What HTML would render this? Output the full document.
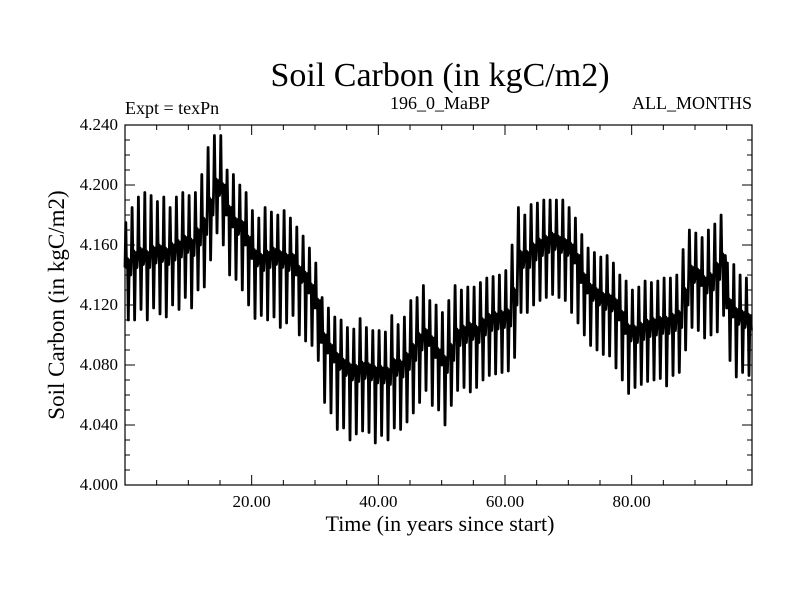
<!DOCTYPE html>
<html><head><meta charset="utf-8"><style>
body{margin:0;background:#fff}
svg text{font-family:"Liberation Serif",serif;fill:#000}
</style></head><body>
<svg id="chart" width="800" height="600" viewBox="0 0 800 600" xmlns="http://www.w3.org/2000/svg">
<text x="440" y="86" font-size="34" text-anchor="middle">Soil Carbon (in kgC/m2)</text>
<text x="125" y="114" font-size="18">Expt = texPn</text>
<text x="440" y="109" font-size="18" text-anchor="middle">196_0_MaBP</text>
<text x="752" y="109" font-size="18" text-anchor="end">ALL_MONTHS</text>
<text transform="translate(64,305) rotate(-90)" font-size="23" text-anchor="middle">Soil Carbon (in kgC/m2)</text>
<text x="440" y="531" font-size="22" text-anchor="middle">Time (in years since start)</text>
<g id="ticks"></g>
<g id="series"></g>
<rect x="125" y="125" width="627" height="360" fill="none" stroke="#000" stroke-width="1.2"/>
</svg>
<script>
const yearMean=[4.145,4.150,4.152,4.150,4.153,4.154,4.152,4.155,4.157,4.160,
4.158,4.165,4.172,4.185,4.198,4.195,4.180,4.172,4.170,4.160,
4.151,4.148,4.150,4.152,4.150,4.148,4.148,4.140,4.136,4.128,
4.118,4.095,4.088,4.082,4.078,4.075,4.074,4.076,4.075,4.073,
4.073,4.072,4.078,4.077,4.082,4.088,4.095,4.098,4.093,4.085,
4.080,4.088,4.098,4.100,4.102,4.100,4.105,4.108,4.109,4.110,
4.111,4.125,4.150,4.150,4.155,4.158,4.160,4.162,4.160,4.158,
4.155,4.148,4.135,4.128,4.125,4.122,4.121,4.118,4.110,4.101,
4.100,4.102,4.104,4.105,4.106,4.106,4.108,4.110,4.125,4.140,
4.138,4.133,4.135,4.142,4.148,4.118,4.112,4.110,4.108];
const upAmp=[0.03,0.035,0.04,0.045,0.04,0.035,0.04,0.03,0.035,0.035,
0.035,0.03,0.035,0.04,0.035,0.038,0.03,0.035,0.03,0.035,
0.032,0.03,0.035,0.03,0.03,0.035,0.03,0.032,0.03,0.03,
0.03,0.03,0.03,0.03,0.032,0.03,0.03,0.035,0.03,0.03,
0.03,0.03,0.035,0.03,0.03,0.035,0.03,0.035,0.03,0.035,
0.035,0.035,0.035,0.03,0.03,0.032,0.03,0.03,0.03,0.03,
0.032,0.035,0.035,0.03,0.032,0.03,0.03,0.028,0.03,0.032,
0.03,0.03,0.032,0.03,0.03,0.03,0.032,0.03,0.03,0.035,
0.03,0.03,0.032,0.03,0.03,0.032,0.03,0.03,0.032,0.03,
0.03,0.032,0.035,0.032,0.032,0.03,0.035,0.03,0.03];
const downAmp=[0.035,0.04,0.035,0.04,0.035,0.04,0.04,0.035,0.04,0.035,
0.04,0.035,0.04,0.035,0.03,0.035,0.04,0.035,0.04,0.04,
0.04,0.035,0.04,0.04,0.045,0.04,0.035,0.04,0.04,0.035,
0.035,0.04,0.04,0.045,0.04,0.045,0.04,0.04,0.04,0.045,
0.04,0.042,0.04,0.04,0.04,0.04,0.04,0.035,0.04,0.035,
0.04,0.035,0.035,0.035,0.04,0.035,0.035,0.035,0.035,0.035,
0.035,0.04,0.035,0.035,0.035,0.035,0.035,0.035,0.035,0.035,
0.04,0.04,0.035,0.035,0.035,0.035,0.035,0.04,0.04,0.04,
0.035,0.035,0.035,0.035,0.035,0.04,0.035,0.035,0.035,0.035,
0.035,0.035,0.035,0.04,0.035,0.035,0.04,0.035,0.035];
const yTicks=[4.000,4.040,4.080,4.120,4.160,4.200,4.240];
const yTickLabels=["4.000","4.040","4.080","4.120","4.160","4.200","4.240"];
const xTicks=[20,40,60,80];
const xTickLabels=["20.00","40.00","60.00","80.00"];

const X0=125,X1=752,Y0=485,Y1=125,XMIN=0,XMAX=99,YMIN=4.0,YMAX=4.24;
const xs=v=>X0+(v-XMIN)/(XMAX-XMIN)*(X1-X0);
const ys=v=>Y0-(v-YMIN)/(YMAX-YMIN)*(Y0-Y1);
const NS='http://www.w3.org/2000/svg';
const svg=document.getElementById('chart');
const tg=document.getElementById('ticks');
function line(x1,y1,x2,y2,name){
  const l=document.createElementNS(NS,'line');
  l.setAttribute('x1',x1);l.setAttribute('y1',y1);l.setAttribute('x2',x2);l.setAttribute('y2',y2);
  l.setAttribute('stroke','#000');l.setAttribute('stroke-width','1');
  
  
  tg.appendChild(l);
}
function text(x,y,s,anchor,name){
  const t=document.createElementNS(NS,'text');
  t.setAttribute('x',x);t.setAttribute('y',y);t.setAttribute('font-size','17');
  t.setAttribute('text-anchor',anchor);t.textContent=s;
  
  
  svg.appendChild(t);
}
for(let i=0;i<=24;i++){
  const v=YMIN+i*0.01,y=ys(v),len=(i%4===0)?10:5;
  line(X0,y,X0+len,y,'y-tick');
  line(X1,y,X1-len,y,'y-tick-right');
}
yTicks.forEach((v,i)=>text(X0-7,ys(v)+5,yTickLabels[i],'end','y-tick-label'));
for(let v=5;v<XMAX;v+=5){
  const x=xs(v),len=(v%20===0)?10:5;
  line(x,Y0,x,Y0-len,'x-tick');
  line(x,Y1,x,Y1+len,'x-tick-top');
}
xTicks.forEach((v,i)=>text(xs(v),Y0+22,xTickLabels[i],'middle','x-tick-label'));
let pts=[];
yearMean.forEach((m,i)=>{
  const hi=m+upAmp[i],lo=m-downAmp[i];
  pts.push([i,m],[i+0.12,hi],[i+0.24,m],[i+0.4,m+0.006],[i+0.52,lo],[i+0.66,m],[i+0.78,m+0.005],[i+0.9,m-0.005]);
});
const d=pts.map((p,k)=>(k?'L':'M')+xs(p[0]).toFixed(1)+','+ys(p[1]).toFixed(1)).join('');
const path=document.createElementNS(NS,'path');
path.setAttribute('d',d);path.setAttribute('fill','none');path.setAttribute('stroke','#000');
path.setAttribute('stroke-width','2.8');path.setAttribute('stroke-linejoin','round');


document.getElementById('series').appendChild(path);
</script>
</body></html>
